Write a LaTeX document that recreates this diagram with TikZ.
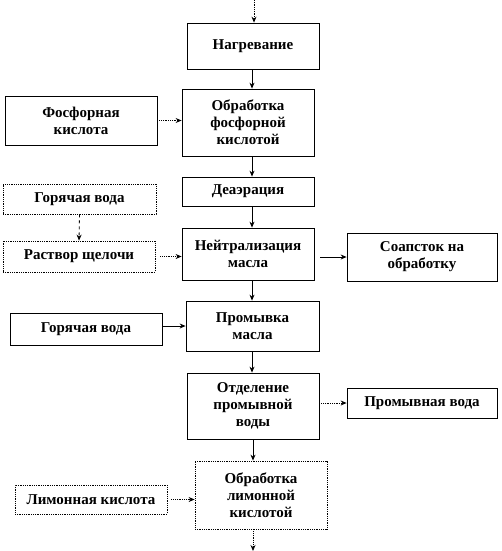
\documentclass[tikz,border=0pt]{standalone}
\usepackage{fontspec}
\setmainfont{Liberation Serif}
\usetikzlibrary{arrows.meta}
\begin{document}
\begin{tikzpicture}[x=1pt,y=-1pt,
  box/.style={draw, line width=0.8pt, inner sep=0pt, align=center,
    font=\bfseries\fontsize{15}{17}\selectfont},
  dbox/.style={box, densely dotted},
  arr/.style={line width=0.8pt, -{Stealth[length=6pt,width=5pt]}},
  darr/.style={arr, densely dotted}]
\useasboundingbox (0,0) rectangle (501,551);
% main column
\node[box, minimum width=132pt, minimum height=46pt] (n1) at (253,46) {Нагревание};
\node[box, minimum width=132pt, minimum height=67pt] (n2) at (248,122.5) {Обработка\\фосфорной\\кислотой};
\node[box, minimum width=132pt, minimum height=29pt] (n3) at (248,191.5) {Деаэрация};
\node[box, minimum width=132pt, minimum height=52pt] (n4) at (248,254) {Нейтрализация\\масла};
\node[box, minimum width=133pt, minimum height=50pt] (n5) at (252.5,326) {Промывка\\масла};
\node[box, minimum width=132pt, minimum height=66pt] (n6) at (253,406) {Отделение\\промывной\\воды};
\node[dbox, minimum width=132pt, minimum height=68pt] (n7) at (261,495) {Обработка\\лимонной\\кислотой};
% left
\node[box, minimum width=152pt, minimum height=49pt] (l1) at (81,120.5) {Фосфорная\\кислота};
\node[dbox, minimum width=153pt, minimum height=30pt] (l2) at (79.5,199) {Горячая вода};
\node[dbox, minimum width=152pt, minimum height=31pt] (l3) at (79,256.5) {Раствор щелочи};
\node[box, minimum width=152pt, minimum height=32pt] (l4) at (86,329) {Горячая вода};
\node[dbox, minimum width=152pt, minimum height=29pt] (l5) at (91,499.5) {Лимонная кислота};
% right
\node[box, minimum width=150pt, minimum height=48pt] (r1) at (422,257) {Соапсток на\\обработку};
\node[box, minimum width=150pt, minimum height=30pt] (r2) at (422,403) {Промывная вода};
% coordinates
\coordinate (ax) at (252,0);
\coordinate (top) at (254,0);
\coordinate (bot) at (253,551);
% vertical arrows
\draw[darr] (top) -- (n1.north -| top);
\draw[arr] (n1.south -| ax) -- (n2.north -| ax);
\draw[arr] (n2.south -| ax) -- (n3.north -| ax);
\draw[arr] (n3.south -| ax) -- (n4.north -| ax);
\draw[arr] (n4.south -| ax) -- (n5.north -| ax);
\draw[arr] (n5.south -| ax) -- (n6.north -| ax);
\draw[arr] (n6.south -| bot) -- (n7.north -| bot);
\draw[darr] (n7.south -| bot) -- (bot);
\draw[arr, dashed] (l2.south) -- (l3.north);
% horizontal arrows
\draw[darr] (l1.east) -- (l1.east -| n2.west);
\draw[darr, shorten <=5pt] (l3.east) -- (l3.east -| n4.west);
\draw[arr, shorten <=6pt] (n4.east |- r1.west) -- (r1.west);
\draw[arr] (l4.east |- n5.west) -- (n5.west);
\draw[darr] (n6.east |- r2.west) -- (r2.west);
\draw[darr, shorten <=4pt] (l5.east) -- (l5.east -| n7.west);
\end{tikzpicture}
\end{document}
